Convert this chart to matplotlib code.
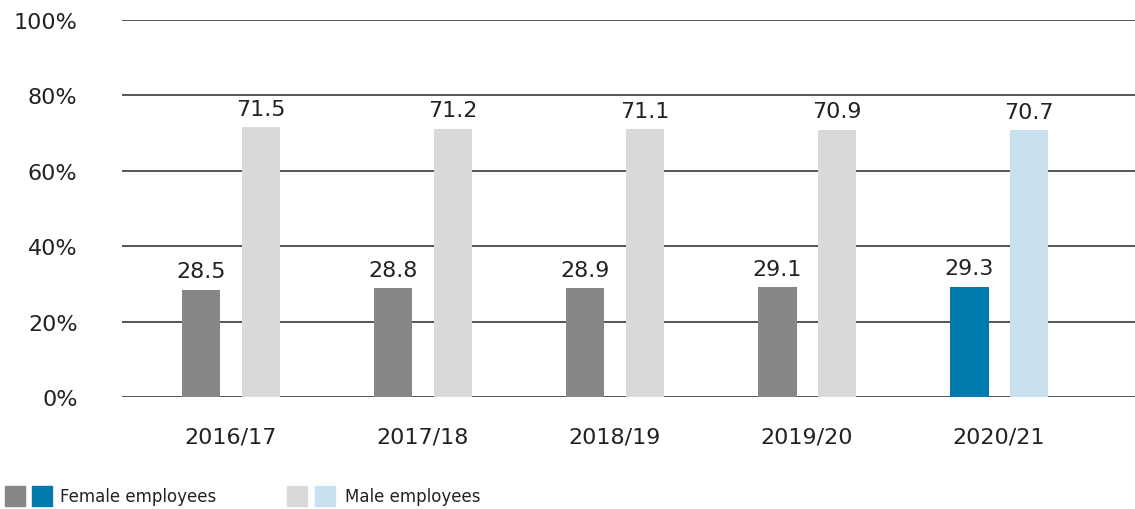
import matplotlib
matplotlib.use("Agg")
import matplotlib.pyplot as plt
from matplotlib.patches import Rectangle

plt.rcParams['font.family'] = ['DejaVu Sans']

categories = ["2016/17", "2017/18", "2018/19", "2019/20", "2020/21"]
female = [28.5, 28.8, 28.9, 29.1, 29.3]
male = [71.5, 71.2, 71.1, 70.9, 70.7]
yticks = [0, 20, 40, 60, 80, 100]
ytick_labels = ["0%", "20%", "40%", "60%", "80%", "100%"]

female_colors = ["#878787"] * 4 + ["#0079ad"]
male_colors = ["#d9d9d9"] * 4 + ["#c9e1ee"]
text_color = "#222222"

fig = plt.figure(figsize=(11.35, 5.10), dpi=100)
ax = fig.add_axes([122 / 1135, 1 - 398 / 510, 1 - 122 / 1135, (398 - 21) / 510])

x = list(range(len(categories)))
w = 0.198
off = 0.154
xf = [i - off for i in x]
xm = [i + off for i in x]
ax.bar(xf, female, width=w, color=female_colors, zorder=3)
ax.bar(xm, male, width=w, color=male_colors, zorder=3)

fs = 16
for xs, vals in ((xf, female), (xm, male)):
    for xi, v in zip(xs, vals):
        ax.annotate(f"{v:.1f}", (xi, v), xytext=(0, 6), textcoords="offset points",
                    ha="center", va="bottom", fontsize=fs, color=text_color)

ax.set_ylim(0, 100)
ax.set_xlim(-0.568, 4.708)
ax.set_yticks(yticks)
ax.set_yticklabels(ytick_labels)
ax.set_xticks(x)
ax.set_xticklabels(categories)
ax.tick_params(axis="y", length=0, pad=32, labelsize=fs, labelcolor=text_color)
ax.tick_params(axis="x", length=0, pad=21, labelsize=fs, labelcolor=text_color)
for s in ax.spines.values():
    s.set_visible(False)
ax.grid(axis="y", color="#3a3a3a", linewidth=1.2, zorder=1)
ax.set_axisbelow(True)

# legend
sq = 20 / 510
sqw = 20 / 1135
yb = 1 - 507 / 510
items = [
    (5, "#878787"), (32, "#0079ad"), (287, "#d9d9d9"), (315, "#c9e1ee"),
]
for px, c in items:
    fig.patches.append(Rectangle((px / 1135, yb), sqw, sq, transform=fig.transFigure,
                                 color=c, figure=fig))
fig.text(60 / 1135, 1 - 497 / 510, "Female employees", fontsize=12, color=text_color,
         va="center", ha="left")
fig.text(345 / 1135, 1 - 497 / 510, "Male employees", fontsize=12, color=text_color,
         va="center", ha="left")

fig.savefig("out.png", dpi=100)
